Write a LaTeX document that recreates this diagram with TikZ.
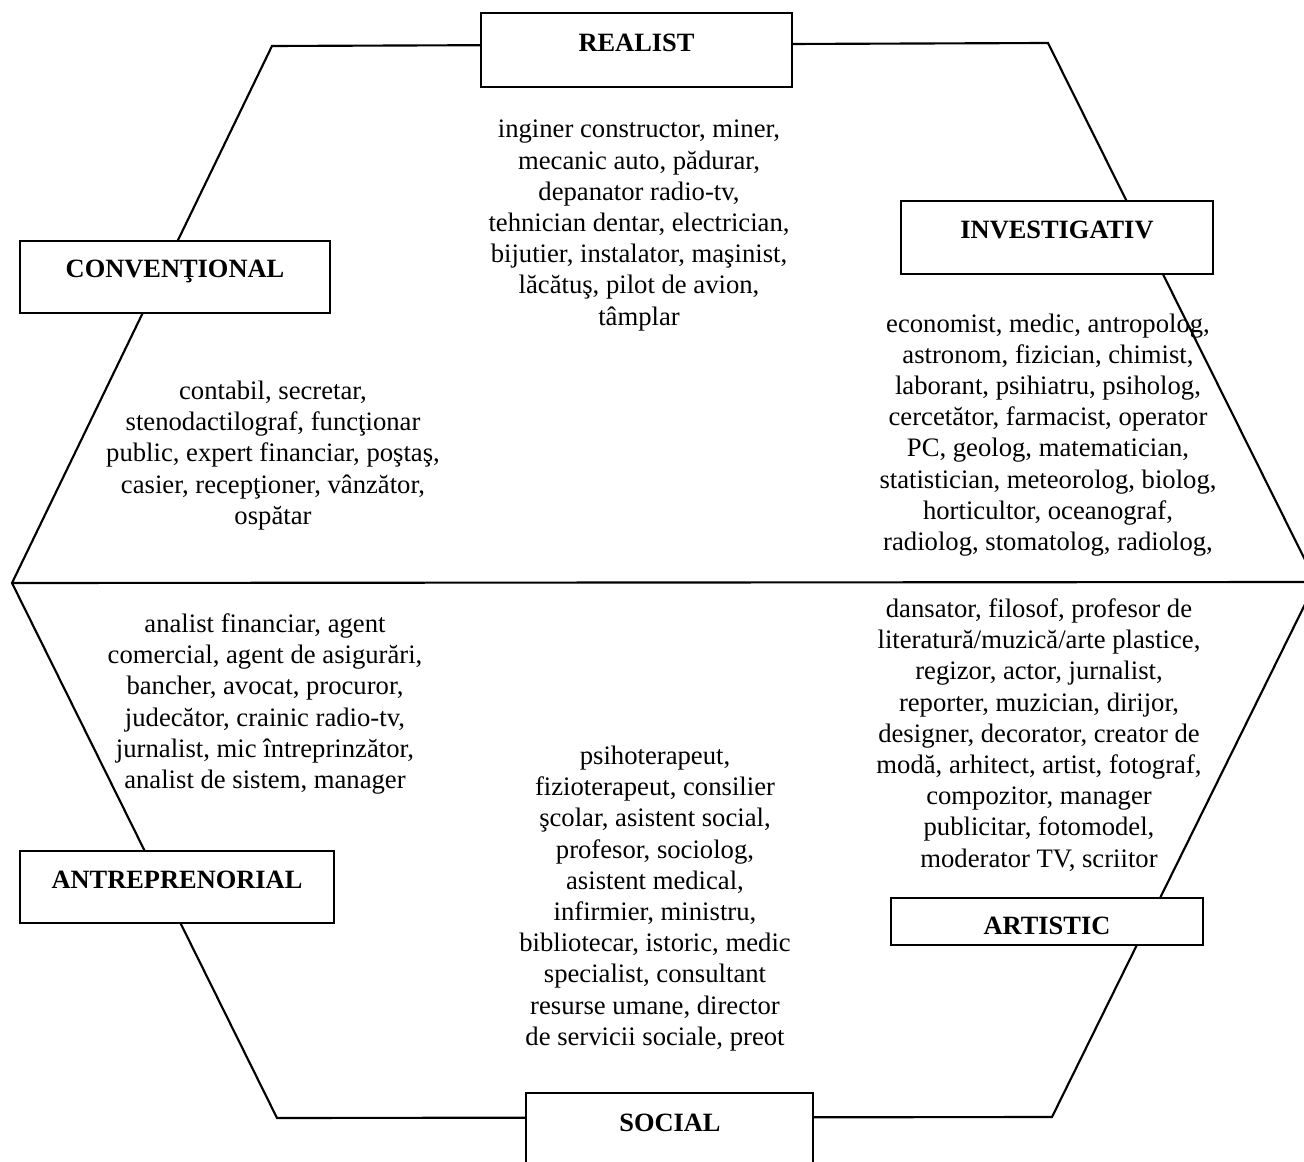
\documentclass[tikz,border=0pt]{standalone}
\usepackage{fontspec}
\setmainfont{Liberation Serif}
\begin{document}
\tikzset{
  hexline/.style={line width=1.6pt, line join=miter},
  box/.style={draw, line width=1.6pt, fill=white, inner sep=0pt},
  lab/.style={font=\fontsize{19.8}{23.4}\selectfont\bfseries, inner sep=0pt},
  txt/.style={font=\fontsize{20}{23.4}\selectfont, align=center, inner sep=0pt},
}
\begin{tikzpicture}[x=0.75pt,y=-0.75pt]
\path[use as bounding box] (0,0) rectangle (1304,1162);
\clip (0,0) rectangle (1304,1162);
\fill[white] (0,0) rectangle (1304,1162);
% hexagon vertices
\coordinate (v1) at (272,46);
\coordinate (v2) at (1048,43);
\coordinate (v3) at (1316,582);
\coordinate (v4) at (1052,1117);
\coordinate (v5) at (277,1118);
\coordinate (v6) at (12,583);
\draw[hexline] (v1) -- (v2) -- (v3) -- (v4) -- (v5) -- (v6) -- cycle;
\draw[hexline] (v6) -- (v3);
% boxes
\node[box, minimum width=233.25pt, minimum height=55.5pt] (realistbox) at (636.5,50) {};
\node[lab] (realist) at (636.5,43) {REALIST};
\node[box, minimum width=234pt, minimum height=54.75pt] (investbox) at (1057,237.5) {};
\node[lab] (invest) at (1057,230) {INVESTIGATIV};
\node[box, minimum width=232.5pt, minimum height=54pt] (convbox) at (175,277) {};
\node[lab] (conv) at (175,271) {CONVENŢIONAL};
\node[box, minimum width=235.5pt, minimum height=54pt] (antrebox) at (177,887) {};
\node[lab] (antre) at (177,880) {ANTREPRENORIAL};
\node[box, minimum width=234pt, minimum height=35.25pt] (artbox) at (1047,921.5) {};
\node[lab] (art) at (1047,926) {ARTISTIC};
\node[box, minimum width=215.25pt, minimum height=61.5pt] (socbox) at (669.5,1134) {};
\node[lab] (soc) at (670,1123) {SOCIAL};
% texts
\node[txt] (trealist) at (639,225.5) {inginer constructor, miner,\\mecanic auto, pădurar,\\depanator radio-tv,\\tehnician dentar, electrician,\\bijutier, instalator, maşinist,\\lăcătuş, pilot de avion,\\tâmplar};
\node[txt] (tinvest) at (1048,435) {economist, medic, antropolog,\\astronom, fizician, chimist,\\laborant, psihiatru, psiholog,\\cercetător, farmacist, operator\\PC, geolog, matematician,\\statistician, meteorolog, biolog,\\horticultor, oceanograf,\\radiolog, stomatolog, radiolog,};
\node[txt] (tconv) at (273,455.5) {contabil, secretar,\\stenodactilograf, funcţionar\\public, expert financiar, poştaş,\\casier, recepţioner, vânzător,\\ospătar};
\node[txt] (tantre) at (265,704) {analist financiar, agent\\comercial, agent de asigurări,\\bancher, avocat, procuror,\\judecător, crainic radio-tv,\\jurnalist, mic întreprinzător,\\analist de sistem, manager};
\node[txt] (tart) at (1039,735) {dansator, filosof, profesor de\\literatură/muzică/arte plastice,\\regizor, actor, jurnalist,\\reporter, muzician, dirijor,\\designer, decorator, creator de\\modă, arhitect, artist, fotograf,\\compozitor, manager\\publicitar, fotomodel,\\moderator TV, scriitor};
\node[txt] (tsoc) at (655,898.5) {psihoterapeut,\\fizioterapeut, consilier\\şcolar, asistent social,\\profesor, sociolog,\\asistent medical,\\infirmier, ministru,\\bibliotecar, istoric, medic\\specialist, consultant\\resurse umane, director\\de servicii sociale, preot};
\end{tikzpicture}
\end{document}
